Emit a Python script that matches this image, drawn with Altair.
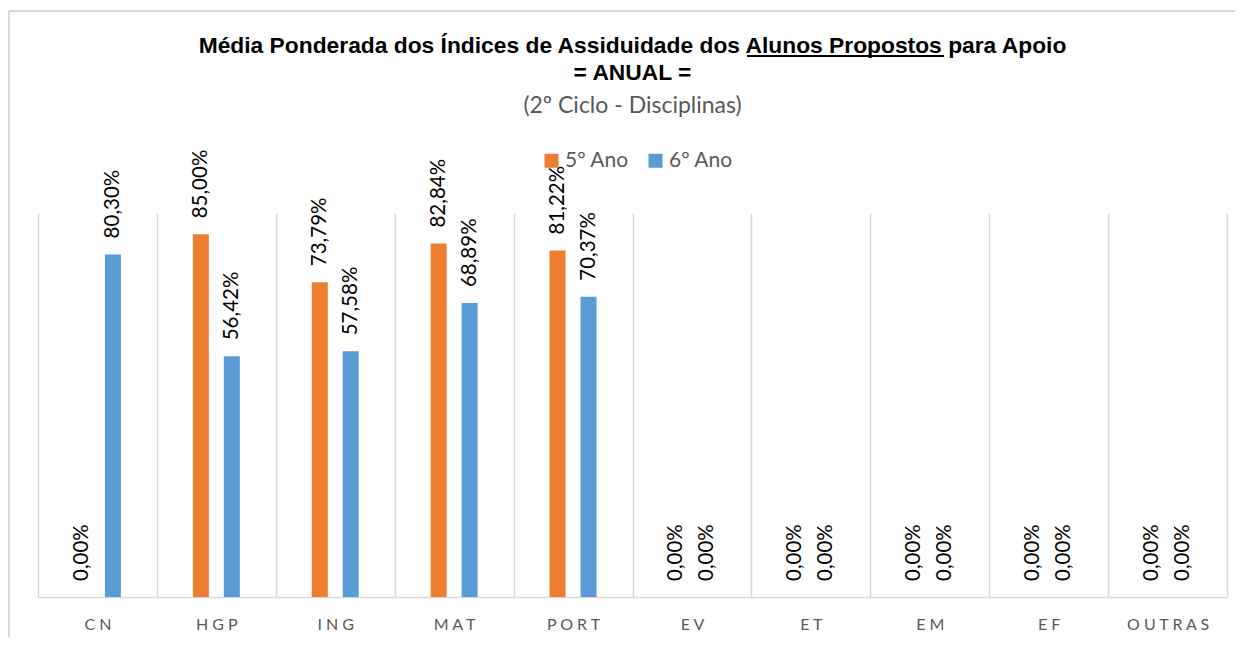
import altair as alt
import pandas as pd

disciplinas = ["CN", "HGP", "ING", "MAT", "PORT", "EV", "ET", "EM", "EF", "OUTRAS"]
ano5 = [0.0, 0.85, 0.7379, 0.8284, 0.8122, 0.0, 0.0, 0.0, 0.0, 0.0]
ano6 = [0.803, 0.5642, 0.5758, 0.6889, 0.7037, 0.0, 0.0, 0.0, 0.0, 0.0]
series = ["5º Ano", "6º Ano"]
colors = ["#ED7D31", "#5B9BD5"]

rows = []
for i, d in enumerate(disciplinas):
    rows.append({"disc": d, "ano": series[0], "v": ano5[i]})
    rows.append({"disc": d, "ano": series[1], "v": ano6[i]})
df = pd.DataFrame(rows)

W, H = 1189, 384
PB = 40
GRID = "#d9d9d9"

base = alt.Chart(df).transform_calculate(
    lbl="replace(format(datum.v, '.2%'), '.', ',')"
)

x = alt.X(
    "disc:N", sort=disciplinas, title=None,
    scale=alt.Scale(paddingInner=0, paddingOuter=0),
    axis=alt.Axis(
        labelAngle=0, labelFont="Lato", labelFontSize=16, labelColor="#595959",
        labelPadding=19, labelExpr="join(split(datum.label, ''), ' ')",
        ticks=False, domainColor=GRID, domainWidth=1.5,
        grid=True, gridColor=GRID, gridWidth=1.5, tickBand="extent",
    ),
)
xo = alt.XOffset("ano:N", sort=series,
                 scale=alt.Scale(paddingInner=0.16, paddingOuter=1))
y = alt.Y("v:Q", scale=alt.Scale(domain=[0, 0.9]), axis=None)
color = alt.Color(
    "ano:N", sort=series,
    scale=alt.Scale(domain=series, range=colors),
    legend=alt.Legend(
        title=None, orient="none", legendX=503, legendY=-63,
        direction="horizontal", symbolType="square", symbolSize=196,
        symbolStrokeWidth=0, labelFont="Lato", labelFontSize=21,
        labelColor="#595959", columnPadding=16, labelOffset=3, padding=0,
    ),
)

bars = base.mark_bar(size=16).encode(x=x, xOffset=xo, y=y, color=color)
labels = base.mark_text(
    angle=270, align="left", baseline="middle", dx=16,
    font="Lato", fontSize=20.5, color="black",
).encode(x=x, xOffset=xo, y=y, text="lbl:N")

one = alt.Data(values=[{"k": 1}])
top_rule = alt.Chart(one).mark_rule(color=GRID, strokeWidth=2).encode(
    x=alt.value(-29), x2=alt.value(W + 8), y=alt.value(-202))
left_rule = alt.Chart(one).mark_rule(color=GRID, strokeWidth=2).encode(
    x=alt.value(-29), y=alt.value(-202), y2=alt.value(H + PB))
underline = alt.Chart(one).mark_rule(color="black", strokeWidth=2).encode(
    x=alt.value(709), x2=alt.value(906), y=alt.value(-157))

chart = alt.layer(top_rule, left_rule, bars, labels, underline).properties(
    width=W, height=H,
    title=alt.TitleParams(
        text=["Média Ponderada dos Índices de Assiduidade dos Alunos Propostos para Apoio",
              "= ANUAL ="],
        subtitle="(2º Ciclo - Disciplinas)",
        anchor="middle", font="Liberation Sans", fontSize=22.8, fontWeight="bold",
        color="black", lineHeight=27, offset=-108,
        subtitleFont="Lato", subtitleFontSize=23, subtitleColor="#595959",
        subtitlePadding=10,
    ),
    autosize=alt.AutoSizeParams(type="none"),
    padding={"left": 30, "top": 205, "right": 8, "bottom": PB},
).configure_view(stroke=None)

chart.save("out.html", embed_options={"renderer": "svg", "actions": False})
